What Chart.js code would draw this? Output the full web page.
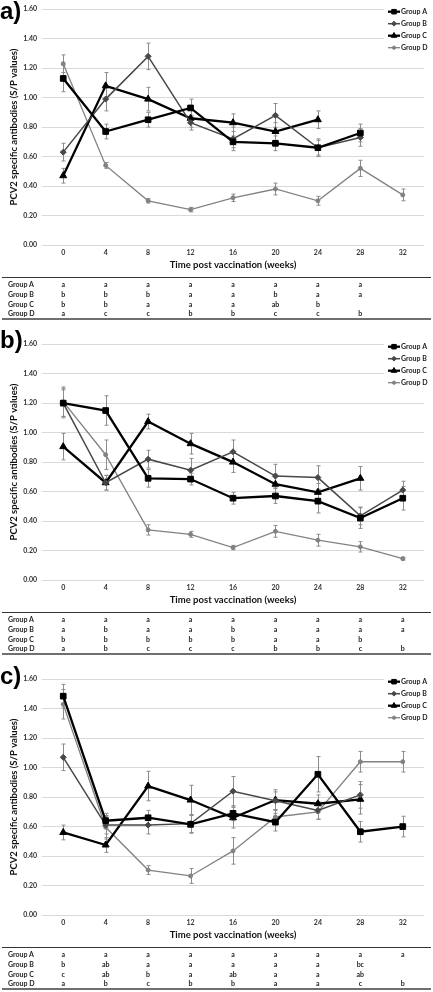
<!DOCTYPE html>
<html><head><meta charset="utf-8">
<script src="https://cdn.jsdelivr.net/npm/chart.js@4.4.1/dist/chart.umd.min.js"></script>
<style>
html,body{margin:0;padding:0;background:#fff;}
body{width:433px;height:992px;overflow:hidden;position:relative;font-family:Lato,'Open Sans',sans-serif;}
.panel{position:absolute;left:0;width:433px;height:335px;}
.panel canvas{position:absolute;left:0;top:0;}
.plabel{position:absolute;left:0;font:bold 24px 'Liberation Sans',Arial,sans-serif;line-height:24px;color:#000;}
.tline{position:absolute;left:2px;width:429px;}
.tcell{position:absolute;font:bold 7px Lato,sans-serif;line-height:8px;height:8px;color:#222;white-space:nowrap;}
</style></head><body>
<div class="panel" id="pa" style="top:0px"><canvas id="ca" width="433" height="272"></canvas></div>
<div class="panel" id="pb" style="top:335px"><canvas id="cb" width="433" height="272"></canvas></div>
<div class="panel" id="pc" style="top:670px"><canvas id="cc" width="433" height="272"></canvas></div>
<script>
// ---- shared ----
const weeks = ['0','4','8','12','16','20','24','28','32'];
const groupNames = ['Group A','Group B','Group C','Group D'];
const yTickValues = [0,0.2,0.4,0.6,0.8,1.0,1.2,1.4,1.6];
const yTitle = 'PCV2 specific antibodies (S/P values)';
const xTitle = 'Time post vaccination (weeks)';

// ---- panel a ----
const aGroupA = [1.13,0.77,0.85,0.93,0.70,0.69,0.66,0.76,null];
const aGroupB = [0.63,0.99,1.28,0.83,0.72,0.88,0.66,0.73,null];
const aGroupC = [0.47,1.08,0.99,0.86,0.83,0.77,0.85,null,null];
const aGroupD = [1.23,0.54,0.30,0.24,0.32,0.38,0.30,0.52,0.34];
const aErrA = [0.09,0.05,0.05,0.06,0.04,0.05,0.05,0.06,null];
const aErrB = [0.06,0.08,0.09,0.05,0.08,0.08,0.06,0.06,null];
const aErrC = [0.05,0.09,0.08,0.06,0.06,0.06,0.06,null,null];
const aErrD = [0.06,0.02,0.015,0.015,0.025,0.04,0.03,0.055,0.04];
const aLetA = ['a','a','a','a','a','a','a','a',''];
const aLetB = ['b','b','b','a','a','b','a','a',''];
const aLetC = ['b','b','a','a','a','ab','b','',''];
const aLetD = ['a','c','c','b','b','c','c','b',''];

// ---- panel b ----
const bGroupA = [1.20,1.15,0.69,0.685,0.555,0.57,0.535,0.42,0.555];
const bGroupB = [1.20,0.66,0.82,0.745,0.87,0.705,0.695,0.435,0.61];
const bGroupC = [0.905,0.66,1.075,0.925,0.80,0.65,0.595,0.69,null];
const bGroupD = [1.21,0.85,0.34,0.31,0.22,0.33,0.27,0.225,0.145];
const bErrA = [0.10,0.10,0.06,0.04,0.04,0.05,0.08,0.07,0.08];
const bErrB = [0.09,0.05,0.06,0.08,0.08,0.08,0.08,0.06,0.06];
const bErrC = [0.09,0.05,0.05,0.07,0.07,0.07,0.06,0.08,null];
const bErrD = [0.10,0.10,0.035,0.02,0.015,0.04,0.04,0.035,0.01];
const bLetA = ['a','a','a','a','a','a','a','a','a'];
const bLetB = ['a','b','a','a','b','a','a','a','a'];
const bLetC = ['b','b','b','b','b','a','a','b',''];
const bLetD = ['a','b','c','c','c','b','b','c','b'];

// ---- panel c ----
const cGroupA = [1.485,0.64,0.66,0.615,0.69,0.63,0.955,0.565,0.60];
const cGroupB = [1.07,0.61,0.61,0.62,0.84,0.775,0.71,0.815,null];
const cGroupC = [0.56,0.475,0.875,0.78,0.66,0.78,0.755,0.785,null];
const cGroupD = [1.43,0.595,0.305,0.265,0.435,0.665,0.70,1.04,1.04];
const cErrA = [0.08,0.05,0.05,0.06,0.05,0.06,0.12,0.07,0.07];
const cErrB = [0.09,0.06,0.06,0.06,0.10,0.06,0.06,0.09,null];
const cErrC = [0.05,0.05,0.10,0.10,0.07,0.07,0.06,0.10,null];
const cErrD = [0.10,0.08,0.03,0.05,0.09,0.05,0.05,0.07,0.07];
const cLetA = ['a','a','a','a','a','a','a','a','a'];
const cLetB = ['b','ab','a','a','a','a','a','bc',''];
const cLetC = ['c','ab','b','a','ab','a','a','ab',''];
const cLetD = ['a','b','c','b','b','a','a','c','b'];

// ---- styles ----
const seriesStyle = [
  {borderColor:'#000000', borderWidth:2.3, pointStyle:'rect', pointRadius:4},
  {borderColor:'#484848', borderWidth:1.5, pointStyle:'rectRot', pointRadius:3},
  {borderColor:'#000000', borderWidth:2.3, pointStyle:'triangle', pointRadius:4},
  {borderColor:'#828282', borderWidth:1.3, pointStyle:'circle', pointRadius:2}
];

Chart.defaults.font.family = 'Lato, sans-serif';
Chart.defaults.animation = false;

const errorBars = {
  id:'errorBars',
  beforeDatasetsDraw(chart){
    const ctx = chart.ctx, ys = chart.scales.y;
    chart.data.datasets.forEach((ds, di) => {
      const meta = chart.getDatasetMeta(di);
      ctx.save();
      ctx.strokeStyle = '#8c8c8c'; ctx.lineWidth = 1;
      meta.data.forEach((pt, i) => {
        const v = ds.data[i], e = ds.errors[i];
        if (v == null || e == null) return;
        const x = Math.round(pt.x) + 0.5;
        const y1 = ys.getPixelForValue(v + e), y2 = ys.getPixelForValue(v - e);
        ctx.beginPath();
        ctx.moveTo(x, y1); ctx.lineTo(x, y2);
        ctx.moveTo(x - 2, y1); ctx.lineTo(x + 2, y1);
        ctx.moveTo(x - 2, y2); ctx.lineTo(x + 2, y2);
        ctx.stroke();
      });
      ctx.restore();
    });
  }
};

const sideLegend = {
  id:'sideLegend',
  afterDraw(chart){
    const ctx = chart.ctx, ca = chart.chartArea;
    const x0 = ca.right - 36;
    ctx.save();
    ctx.fillStyle = '#ffffff';
    ctx.fillRect(x0 - 4, 0, chart.width - x0 + 4, 50);
    chart.data.datasets.forEach((ds, i) => {
      const cy = ca.top + 2.5 + i * 12;
      ctx.strokeStyle = ds.borderColor; ctx.fillStyle = ds.borderColor;
      ctx.lineWidth = ds.borderWidth;
      ctx.beginPath(); ctx.moveTo(x0, cy); ctx.lineTo(x0 + 12, cy); ctx.stroke();
      ctx.lineWidth = 1;
      Chart.helpers.drawPoint(ctx, {pointStyle: ds.pointStyle, radius: ds.pointRadius * 0.8, borderWidth: 1, rotation: 0}, x0 + 6, cy);
      ctx.fillStyle = '#222';
      ctx.font = 'bold 7px Lato, sans-serif';
      ctx.textBaseline = 'middle'; ctx.textAlign = 'left';
      ctx.fillText(ds.label, x0 + 13, cy);
    });
    ctx.restore();
  }
};

function makePanel(panelId, canvasId, label, labelTop, series, errs, letters){
  const datasets = series.map((d, i) => Object.assign({
    label: groupNames[i],
    data: d,
    errors: errs[i],
    backgroundColor: seriesStyle[i].borderColor,
    pointBackgroundColor: seriesStyle[i].borderColor,
    pointBorderColor: seriesStyle[i].borderColor,
    pointBorderWidth: 1,
    tension: 0,
    spanGaps: false
  }, seriesStyle[i]));
  const chart = new Chart(document.getElementById(canvasId), {
    type: 'line',
    data: { labels: weeks, datasets },
    options: {
      responsive: false,
      animation: false,
      layout: { padding: { left: 0, right: 9, top: 5, bottom: 0 } },
      plugins: { legend: { display: false }, tooltip: { enabled: false } },
      scales: {
        x: {
          offset: true,
          grid: { display: false, drawTicks: false },
          border: { display: false },
          ticks: { color: '#333', font: { size: 7, weight: 'bold' }, padding: 4, maxRotation: 0 },
          title: { display: true, text: xTitle, color: '#111', font: { size: 9.5, weight: 'bold' }, padding: { top: 0, bottom: 1 } },
          afterFit: s => { s.height = 27; }
        },
        y: {
          min: 0, max: 1.6,
          afterBuildTicks: s => { s.ticks = yTickValues.map(v => ({ value: v })); },
          grid: { color: '#d9d9d9', lineWidth: 1, drawTicks: false },
          border: { display: false },
          ticks: { color: '#333', font: { size: 7, weight: 'bold' }, padding: 5, callback: v => Number(v).toFixed(2) },
          title: { display: true, text: yTitle, color: '#111', font: { size: 9.5, weight: 'bold' }, padding: { top: 8, bottom: 0 } },
          afterFit: s => { s.width = 42; }
        }
      }
    },
    plugins: [errorBars, sideLegend]
  });

  const panel = document.getElementById(panelId);
  const lab = document.createElement('div');
  lab.className = 'plabel'; lab.textContent = label; lab.style.top = labelTop + 'px';
  panel.appendChild(lab);

  const xs = weeks.map((_, i) => chart.scales.x.getPixelForValue(i));
  const line1 = document.createElement('div');
  line1.className = 'tline'; line1.style.top = '277px'; line1.style.height = '1px'; line1.style.background = '#333';
  panel.appendChild(line1);
  const line2 = document.createElement('div');
  line2.className = 'tline'; line2.style.top = '318px'; line2.style.height = '2px'; line2.style.background = '#6f6f6f';
  panel.appendChild(line2);
  const rowY = [284, 293.8, 303.6, 313.4];
  letters.forEach((row, r) => {
    const name = document.createElement('div');
    name.className = 'tcell'; name.textContent = groupNames[r];
    name.style.left = '8px'; name.style.top = (rowY[r] - 4) + 'px';
    panel.appendChild(name);
    row.forEach((t, i) => {
      if (!t) return;
      const c = document.createElement('div');
      c.className = 'tcell'; c.textContent = t;
      c.style.left = (xs[i] - 10) + 'px'; c.style.width = '20px'; c.style.textAlign = 'center';
      c.style.top = (rowY[r] - 4) + 'px';
      panel.appendChild(c);
    });
  });
  return chart;
}

makePanel('pa', 'ca', 'a)', -1.5, [aGroupA, aGroupB, aGroupC, aGroupD], [aErrA, aErrB, aErrC, aErrD], [aLetA, aLetB, aLetC, aLetD]);
makePanel('pb', 'cb', 'b)', -7, [bGroupA, bGroupB, bGroupC, bGroupD], [bErrA, bErrB, bErrC, bErrD], [bLetA, bLetB, bLetC, bLetD]);
makePanel('pc', 'cc', 'c)', -6, [cGroupA, cGroupB, cGroupC, cGroupD], [cErrA, cErrB, cErrC, cErrD], [cLetA, cLetB, cLetC, cLetD]);
</script>
</body></html>
